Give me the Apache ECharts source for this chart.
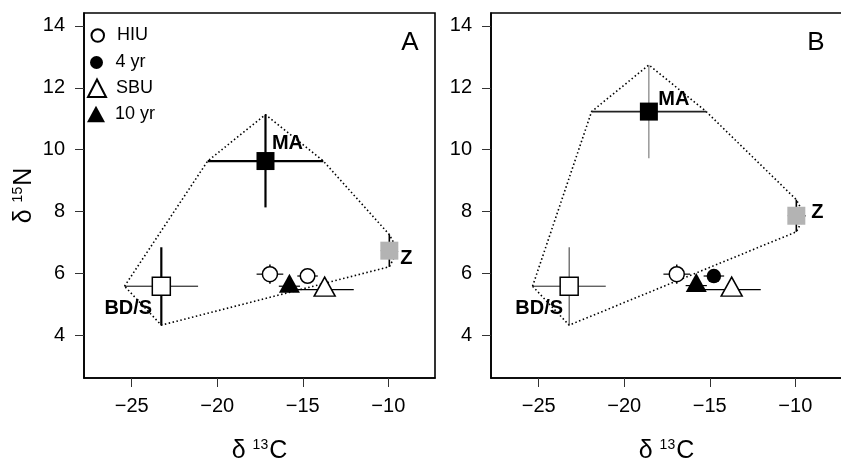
<!DOCTYPE html>
<html><head><meta charset="utf-8">
<script src="https://cdn.jsdelivr.net/npm/echarts@6/dist/echarts.min.js"></script>
<style>html,body{margin:0;padding:0;background:#fff}#c{width:841px;height:462px}</style>
</head><body><div id="c"></div>
<script>
// ---------- data ----------
const xTickValues = [-25, -20, -15, -10];
const yTickValues = [4, 6, 8, 10, 12, 14];
const sourceNames = ['BD/S', 'MA', 'Z'];
// panel A sources (mean, sd)
const srcA_C = [-23.27, -17.18, -9.94];
const srcA_N = [5.58, 9.63, 6.73];
const srcA_sdC = [2.15, 3.38, 0.5];
const srcA_sdN = [1.26, 1.5, 0.52];
// panel B sources
const srcB_C = [-23.22, -18.56, -9.94];
const srcB_N = [5.58, 11.23, 7.86];
const srcB_sdC = [2.14, 3.35, 0.5];
const srcB_sdN = [1.26, 1.51, 0.52];
// consumers
const consumerNames = ['HIU', '4 yr', 'SBU', '10 yr'];
const conA_C = [-16.92, -14.72, -13.72, -15.78];
const conA_N = [5.97, 5.91, 5.47, 5.58];
const conB_C = [-16.93, -14.76, -13.72, -15.79];
const conB_N = [5.97, 5.91, 5.47, 5.6];
const con_sdC = [0.78, 0.6, 1.7, 0.62];
const con_sdN = [0.31, 0.15, 0.15, 0.15];

// ---------- styles ----------
const FONT = "'Liberation Sans', Arial, Helvetica, sans-serif";
const srcItemStyle = [
  {color: '#fff', borderColor: '#000', borderWidth: 1.5, opacity: 1},
  {color: '#000', opacity: 1},
  {color: '#b3b3b3', opacity: 1}
];
const srcLabelOffsetA = [[-33, 22], [22, -18], [17, 8]];
const srcLabelOffsetB = [[-30, 22], [25, -12], [21, -3]];
const srcErrWidthA = [[1, 2.2], [2.2, 2.2], [1, 1.6]];
const srcErrWidthB = [[1, 1], [1.8, 1], [1, 1.6]];
const srcErrColorB = [['#222', '#333'], ['#222', '#666'], ['#000', '#000']];
const conErrWidth = [[1.2, 1.5], [1.2, 1.2], [1.4, 1.2], [1.2, 1.2]];
const conSymbols = ['circle', 'circle', 'triangle', 'triangle'];
const conSizes = [15, 14.5, [21, 19], [21, 19]];
const conStyleB = [
  {color: '#fff', borderColor: '#000', borderWidth: 1.5, opacity: 1},
  {color: '#000', opacity: 1},
  {color: '#fff', borderColor: '#000', borderWidth: 1.5, opacity: 1},
  {color: '#000', opacity: 1}
];
const conStyleA = [conStyleB[0], conStyleB[0], conStyleB[2], conStyleB[3]];
// legend layout: [left, top, iconW, iconH, textPadLeft]
const legendLayout = [
  [90.5, 26.5, 12.5, 12.5, 8],
  [90, 53.5, 13, 13, 7.5],
  [87, 78.5, 18, 17.5, 5],
  [87, 105, 18, 16.5, 5]
];
const legendIcons = ['circle', 'circle', 'triangle', 'triangle'];

// ---------- helpers ----------
function errSeries(gi, C, N, sdC, sdN, widths, colors) {
  const data = C.map((x, i) => [x, N[i], x - sdC[i], x + sdC[i], N[i] - sdN[i], N[i] + sdN[i]]);
  return {
    type: 'custom', xAxisIndex: gi, yAxisIndex: gi, z: 3, silent: true, clip: false,
    data: data,
    encode: {x: 0, y: 1},
    renderItem: function (params, api) {
      const i = params.dataIndex;
      const x = api.value(0), y = api.value(1);
      const h0 = api.coord([api.value(2), y]), h1 = api.coord([api.value(3), y]);
      const v0 = api.coord([x, api.value(4)]), v1 = api.coord([x, api.value(5)]);
      const col = colors ? colors[i] : ['#000', '#000'];
      return {type: 'group', children: [
        {type: 'line', shape: {x1: h0[0], y1: h0[1], x2: h1[0], y2: h1[1]}, style: {stroke: col[0], lineWidth: widths[i][0]}},
        {type: 'line', shape: {x1: v0[0], y1: v0[1], x2: v1[0], y2: v1[1]}, style: {stroke: col[1], lineWidth: widths[i][1]}}
      ]};
    }
  };
}
function hull(C, N, sdC, sdN) {
  // BD/S left, MA left, MA top, MA right, Z top, Z right, Z bottom, BD/S bottom
  return [
    [C[0] - sdC[0], N[0]], [C[1] - sdC[1], N[1]], [C[1], N[1] + sdN[1]], [C[1] + sdC[1], N[1]],
    [C[2], N[2] + sdN[2]], [C[2] + sdC[2], N[2]], [C[2], N[2] - sdN[2]], [C[0], N[0] - sdN[0]],
    [C[0] - sdC[0], N[0]]
  ];
}
function hullSeries(gi, pts) {
  return {type: 'line', xAxisIndex: gi, yAxisIndex: gi, data: pts, symbol: 'none', z: 2, silent: true,
    lineStyle: {color: '#000', width: 1.6, type: [1.5, 2.5]}, animation: false};
}
function srcSeries(gi, C, N, offsets, nameSuffix) {
  return {type: 'scatter', name: 'sources' + nameSuffix, xAxisIndex: gi, yAxisIndex: gi, z: 5,
    symbol: 'rect', symbolSize: 18,
    data: C.map((x, i) => ({name: sourceNames[i], value: [x, N[i]], itemStyle: srcItemStyle[i],
      label: {offset: offsets[i]}})),
    label: {show: true, position: 'inside', formatter: '{b}', fontFamily: FONT, fontWeight: 'bold', fontSize: 20, color: '#000'}
  };
}
function conSeries(gi, C, N, styles, nameSuffix) {
  return consumerNames.map((nm, i) => ({
    type: 'scatter', name: nm + nameSuffix, xAxisIndex: gi, yAxisIndex: gi, z: 6,
    symbol: conSymbols[i], symbolSize: conSizes[i], symbolOffset: conSymbols[i] === 'triangle' ? [0, -3] : [0, 0],
    itemStyle: styles[i], data: [[C[i], N[i]]]
  }));
}
const fmt = v => (v < 0 ? '\u2212' + Math.abs(v) : String(v));
const titleRich = {
  d: {fontSize: 25, fontFamily: FONT, color: '#000', lineHeight: 26},
  s: {fontSize: 14, fontFamily: FONT, color: '#000', verticalAlign: 'top', lineHeight: 26, padding: [0, 1, 8, 0]},
  c: {fontSize: 25, fontFamily: FONT, color: '#000', lineHeight: 26}
};
function xAx(gi) {
  return {gridIndex: gi, type: 'value', min: -27.79, max: -7.27,
    axisLine: {show: true, onZero: false, lineStyle: {color: '#000', width: 1.6}},
    axisTick: {show: true, customValues: xTickValues, length: 9, lineStyle: {color: '#333', width: 1}},
    axisLabel: {customValues: xTickValues, formatter: fmt, margin: 18, fontSize: 20, fontFamily: FONT, color: '#000'},
    splitLine: {show: false},
    name: '{d|\u03b4 }{s|13}{c|C}', nameLocation: 'middle', nameGap: 60,
    nameTextStyle: {rich: titleRich}
  };
}
function yAx(gi, withName) {
  const ax = {gridIndex: gi, type: 'value', min: 2.61, max: 14.42,
    axisLine: {show: true, onZero: false, lineStyle: {color: '#000', width: 1.6}},
    axisTick: {show: true, customValues: yTickValues, length: 9, lineStyle: {color: '#333', width: 1}},
    axisLabel: {customValues: yTickValues, formatter: fmt, margin: 19, fontSize: 20, fontFamily: FONT, color: '#000'},
    splitLine: {show: false}
  };
  if (withName) {
    Object.assign(ax, {name: '{d|\u03b4 }{s|15}{c|N}', nameLocation: 'middle', nameGap: 47, nameRotate: 90,
      nameTextStyle: {rich: titleRich}});
  }
  return ax;
}

const option = {
  animation: false,
  backgroundColor: '#fff',
  grid: [
    {left: 84, top: 13, width: 351, height: 365, show: true, borderColor: '#000', borderWidth: 1.6,
      containLabel: false, outerBoundsMode: 'none'},
    {left: 491, top: 13, width: 351, height: 365, show: true, borderColor: '#000', borderWidth: 1.6,
      containLabel: false, outerBoundsMode: 'none'}
  ],
  xAxis: [xAx(0), xAx(1)],
  yAxis: [yAx(0, true), yAx(1, false)],
  legend: consumerNames.map((nm, i) => ({
    data: [nm], orient: 'vertical', left: legendLayout[i][0], top: legendLayout[i][1],
    itemWidth: legendLayout[i][2], itemHeight: legendLayout[i][3], icon: legendIcons[i],
    selectedMode: false, padding: 0,
    itemStyle: {opacity: 1},
    formatter: name => '{t|' + name + '}',
    textStyle: {fontSize: 18, fontFamily: FONT, color: '#000',
      rich: {t: {fontSize: 18, fontFamily: FONT, color: '#000', padding: [0, 0, 0, legendLayout[i][4]]}}}
  })),
  graphic: [
    {type: 'text', x: 410, y: 43, style: {text: 'A', fontSize: 26, fontFamily: FONT, fill: '#000', textAlign: 'center', textVerticalAlign: 'middle'}},
    {type: 'text', x: 816, y: 43, style: {text: 'B', fontSize: 26, fontFamily: FONT, fill: '#000', textAlign: 'center', textVerticalAlign: 'middle'}}
  ],
  series: [
    // panel B first so legend icons come from B styles
    ...conSeries(1, conB_C, conB_N, conStyleB, ''),
    hullSeries(1, hull(srcB_C, srcB_N, srcB_sdC, srcB_sdN)),
    errSeries(1, srcB_C, srcB_N, srcB_sdC, srcB_sdN, srcErrWidthB, srcErrColorB),
    errSeries(1, conB_C, conB_N, con_sdC, con_sdN, conErrWidth),
    srcSeries(1, srcB_C, srcB_N, srcLabelOffsetB, ' B'),
    // panel A
    hullSeries(0, hull(srcA_C, srcA_N, srcA_sdC, srcA_sdN)),
    errSeries(0, srcA_C, srcA_N, srcA_sdC, srcA_sdN, srcErrWidthA),
    errSeries(0, conA_C, conA_N, con_sdC, con_sdN, conErrWidth),
    srcSeries(0, srcA_C, srcA_N, srcLabelOffsetA, ' A'),
    ...conSeries(0, conA_C, conA_N, conStyleA, ' A')
  ]
};
const chart = echarts.init(document.getElementById('c'), null, {renderer: 'canvas'});
chart.setOption(option);
</script>
</body></html>
